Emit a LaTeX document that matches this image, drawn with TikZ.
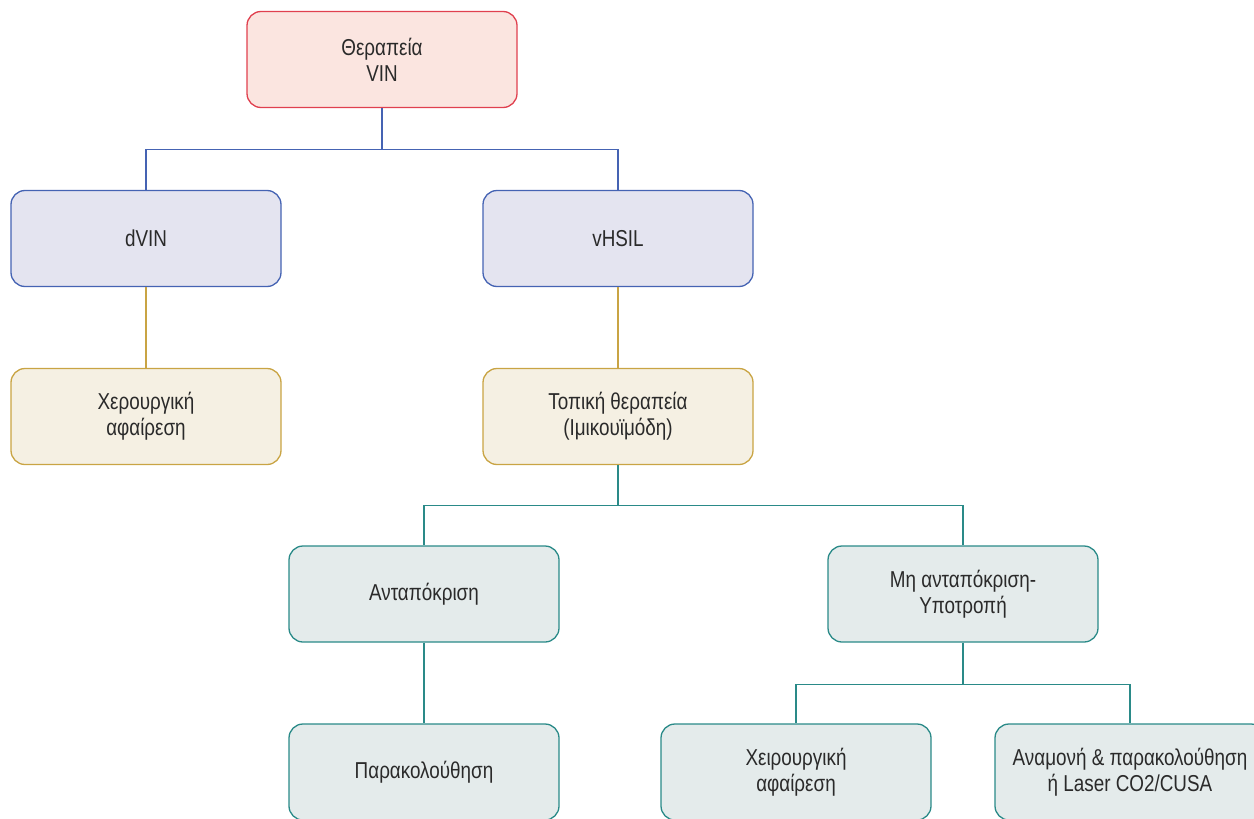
\documentclass[tikz,border=0pt]{standalone}
\usepackage{fontspec}
\setmainfont{Liberation Sans}[FakeStretch=0.82]
\definecolor{rootfill}{HTML}{FBE5E0}
\definecolor{rootdraw}{HTML}{E0404F}
\definecolor{bluefill}{HTML}{E4E4F0}
\definecolor{bluedraw}{HTML}{4563B3}
\definecolor{goldfill}{HTML}{F5F0E3}
\definecolor{golddraw}{HTML}{C9A444}
\definecolor{tealfill}{HTML}{E4EBEB}
\definecolor{tealdraw}{HTML}{2A8A88}
\definecolor{txt}{HTML}{2A2A2A}
\tikzset{
  box/.style={rectangle, rounded corners=14pt, minimum width=270pt, minimum height=96pt,
    line width=1.3pt, align=center, text=txt, font=\fontsize{23}{26}\selectfont},
  rootbox/.style={box, fill=rootfill, draw=rootdraw},
  bluebox/.style={box, fill=bluefill, draw=bluedraw},
  goldbox/.style={box, fill=goldfill, draw=golddraw},
  tealbox/.style={box, fill=tealfill, draw=tealdraw},
  link/.style={line width=1.2pt}
}
\begin{document}
\begin{tikzpicture}[x=1pt,y=-1pt]
\useasboundingbox (0,0) rectangle (1254,819);
\begin{scope}
\clip (0,0) rectangle (1254,819);
\node[rootbox] (root) at (382,59.5) {Θεραπεία\\VIN};
\node[bluebox] (dvin) at (146,238.5) {dVIN};
\node[bluebox] (vhsil) at (618,238.5) {vHSIL};
\node[goldbox] (surg1) at (146,416.5) {Χερουργική\\αφαίρεση};
\node[goldbox] (topical) at (618,416.5) {Τοπική θεραπεία\\(Ιμικουϊμόδη)};
\node[tealbox] (resp) at (424,594) {Ανταπόκριση};
\node[tealbox] (noresp) at (963,594) {Μη ανταπόκριση-\\Υποτροπή};
\node[tealbox] (follow) at (424,772) {Παρακολούθηση};
\node[tealbox] (surg2) at (796,772) {Χειρουργική\\αφαίρεση};
\node[tealbox] (wait) at (1130,772) {Αναμονή \& παρακολούθηση\\ή Laser CO2/CUSA};

\draw[link, draw=bluedraw] (root.south) -- ++(0,41) -| (dvin.north);
\draw[link, draw=bluedraw] (root.south) -- ++(0,41) -| (vhsil.north);
\draw[link, draw=golddraw] (dvin.south) -- (surg1.north);
\draw[link, draw=golddraw] (vhsil.south) -- (topical.north);
\draw[link, draw=tealdraw] (topical.south) -- ++(0,40) -| (resp.north);
\draw[link, draw=tealdraw] (topical.south) -- ++(0,40) -| (noresp.north);
\draw[link, draw=tealdraw] (resp.south) -- (follow.north);
\draw[link, draw=tealdraw] (noresp.south) -- ++(0,42) -| (surg2.north);
\draw[link, draw=tealdraw] (noresp.south) -- ++(0,42) -| (wait.north);
\end{scope}
\end{tikzpicture}
\end{document}
